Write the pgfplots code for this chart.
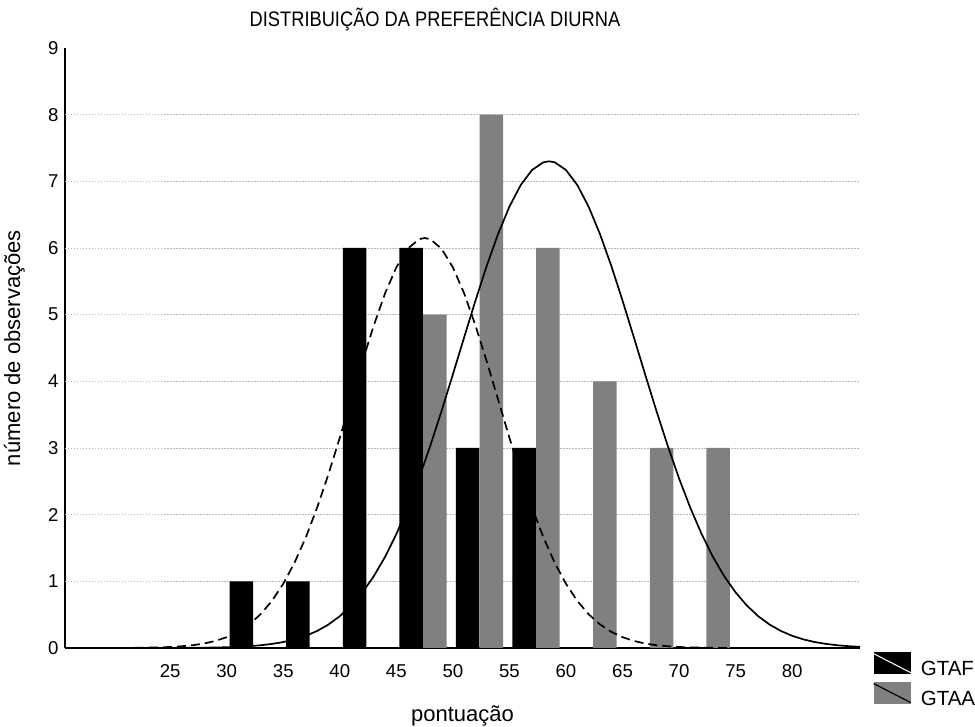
\documentclass[border=0pt]{standalone}
\usepackage{pgfplots}
\pgfplotsset{compat=1.18}
\usetikzlibrary{calc}
\usepackage{graphicx}
\usepackage{fontspec}
\setmainfont{Liberation Sans}
\definecolor{bargray}{RGB}{128,128,128}
\begin{document}
\begin{tikzpicture}[x=1pt,y=1pt]
\begin{axis}[
  scale only axis, width=795pt, height=600pt,
  xmin=15.7, xmax=86, ymin=0, ymax=9,
  axis x line*=bottom, axis y line*=left,
  x axis line style={-, line width=2pt},
  y axis line style={-, line width=1.8pt},
  /pgf/number format/assume math mode=true,
  xtick={25,30,...,80},
  ytick={0,...,9},
  major tick length=0pt,
  extra y ticks={1,...,8}, extra y tick labels={},
  extra y tick style={grid=major, major tick length=0pt},
  grid style={black!28, dash pattern=on 1.5pt off 1.5pt, line width=0.8pt},
  ticklabel style={font=\fontsize{18.6}{20}\selectfont},
  xticklabel style={anchor=base, yshift=-30pt},
  yticklabel style={xshift=-3pt},
  title={\scalebox{0.87}[1]{DISTRIBUIÇÃO DA PREFERÊNCIA DIURNA}},
  title style={at={(axis description cs:0.4654,1.026)}, anchor=base, font=\fontsize{21}{22}\selectfont},
  xlabel={pontuação},
  xlabel style={at={(axis description cs:0.5,-0.1233)}, anchor=base, font=\fontsize{22}{24}\selectfont},
  ylabel={número de observações},
  ylabel style={at={(axis description cs:-0.0566,0.5)}, anchor=base, font=\fontsize{22}{24}\selectfont},
  legend style={at={(axis description cs:1.01635,-0.0067)}, anchor=north west,
    draw=none, fill=none, inner sep=0pt, row sep=5.5pt,
    nodes={inner sep=0pt}, font=\fontsize{20.5}{22}\selectfont},
  legend cell align=left,
]
\coordinate (SW) at (rel axis cs:0,0);
\addplot[ybar, bar width=23.5pt, bar shift=0pt, fill=black, draw=none,
  legend image code/.code={
    \fill[black] (0pt,-5pt) rectangle (37pt,16.5pt);
    \draw[white, line width=1pt] (0pt,15pt) -- (37pt,-4pt);
    \path (47pt,0pt);}]
  coordinates {(31.3,1) (36.3,1) (41.3,6) (46.3,6) (51.3,3) (56.3,3)};
\addlegendentry{GTAF}
\addplot[ybar, bar width=23.5pt, bar shift=0pt, fill=bargray, draw=none,
  legend image code/.code={
    \fill[bargray] (0pt,-5pt) rectangle (37pt,16.5pt);
    \draw[black, line width=1.2pt] (0pt,15pt) -- (37pt,-4pt);
    \path (47pt,0pt);}]
  coordinates {(48.4,5) (53.4,8) (58.4,6) (63.45,4) (68.45,3) (73.45,3)};
\addlegendentry{GTAA}
% fitted normal curve GTAF (dashed)
\addplot[forget plot, black, line width=1.7pt, dash pattern=on 9pt off 5pt, line join=round]
  coordinates {(15.7,0) (18,0.0002) (20,0.0008) (22,0.0027) (24,0.0087) (25,0.015) (26,0.026) (27,0.042) (28,0.067) (29,0.106) (30,0.162) (31,0.243) (32,0.355) (33,0.507) (34,0.707) (35,0.963) (36,1.280) (37,1.661) (38,2.107) (39,2.609) (40,3.154) (41,3.724) (42,4.295) (43,4.836) (44,5.318) (45,5.710) (46,5.988) (47,6.132) (47.5,6.15) (48,6.132) (49,5.988) (50,5.710) (51,5.318) (52,4.836) (53,4.295) (54,3.724) (55,3.154) (56,2.609) (57,2.107) (58,1.661) (59,1.280) (60,0.963) (61,0.707) (62,0.507) (63,0.355) (64,0.243) (65,0.162) (66,0.106) (67,0.067) (68,0.042) (69,0.026) (70,0.015) (71,0.0087) (73,0.0027) (75,0.0008) (80,0) (86,0)};
% fitted normal curve GTAA (solid)
\addplot[forget plot, black, line width=1.7pt, line join=round]
  coordinates {(15.7,0) (20,0.0001) (25,0.001) (28,0.0044) (30,0.011) (32,0.027) (33,0.041) (34,0.061) (35,0.089) (36,0.129) (37,0.183) (38,0.256) (39,0.352) (40,0.477) (41,0.636) (42,0.834) (43,1.075) (44,1.366) (45,1.708) (46,2.101) (47,2.544) (48,3.032) (49,3.556) (50,4.104) (51,4.662) (52,5.212) (53,5.736) (54,6.212) (55,6.621) (56,6.945) (57,7.170) (58,7.286) (58.5,7.3) (59,7.286) (60,7.170) (61,6.945) (62,6.621) (63,6.212) (64,5.736) (65,5.212) (66,4.662) (67,4.104) (68,3.556) (69,3.032) (70,2.544) (71,2.101) (72,1.708) (73,1.366) (74,1.075) (75,0.834) (76,0.636) (77,0.477) (78,0.352) (79,0.256) (80,0.183) (81,0.129) (82,0.089) (83,0.061) (84,0.041) (85,0.027) (86,0.018)};
\end{axis}
\pgfresetboundingbox
\path[use as bounding box] ($(SW)+(-65pt,-79pt)$) rectangle ($(SW)+(910pt,648pt)$);
\end{tikzpicture}
\end{document}
